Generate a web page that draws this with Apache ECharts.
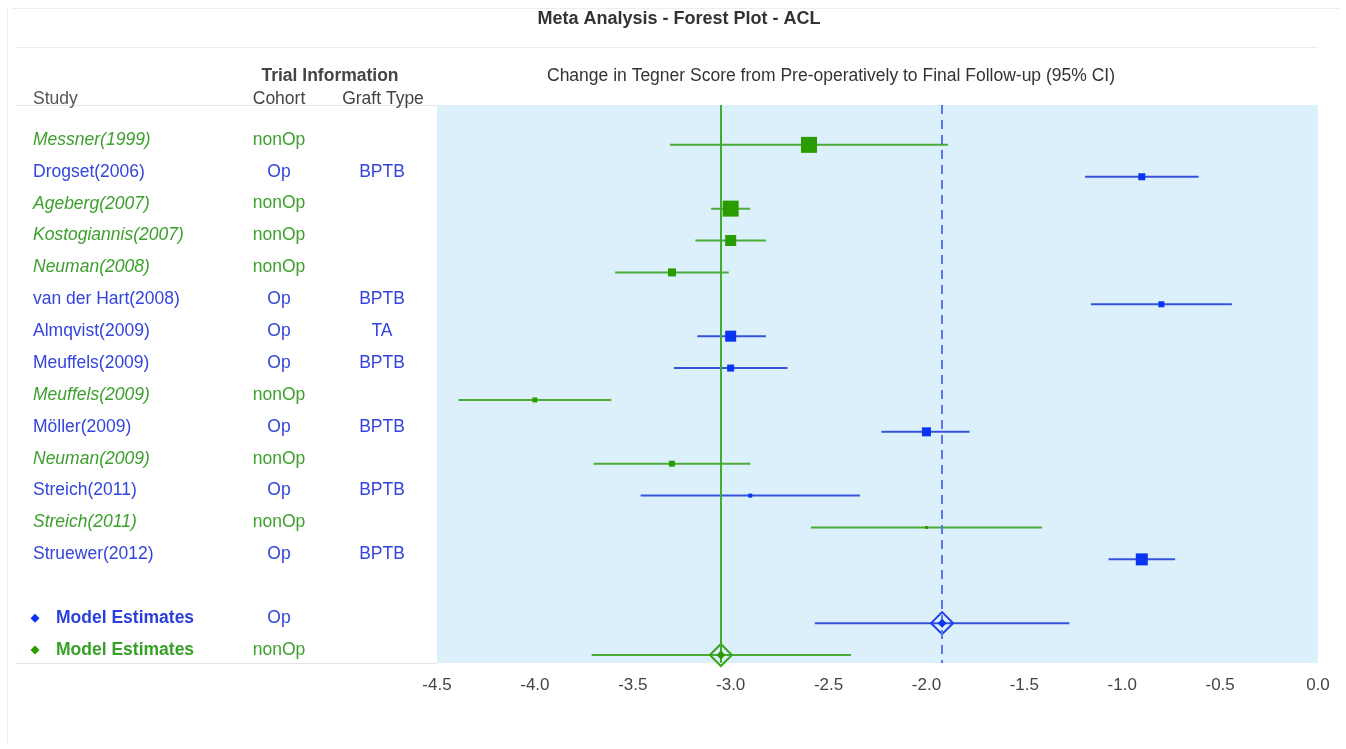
<!DOCTYPE html>
<html>
<head>
<meta charset="utf-8">
<script src="https://cdn.jsdelivr.net/npm/echarts@6/dist/echarts.min.js"></script>
<style>
html,body{margin:0;padding:0;background:#fff;}
#chart{width:1346px;height:749px;}
</style>
</head>
<body>
<div id="chart"></div>
<script>
// ---- data ----
const studies = ['Messner(1999)', 'Drogset(2006)', 'Ageberg(2007)', 'Kostogiannis(2007)', 'Neuman(2008)', 'van der Hart(2008)', 'Almqvist(2009)', 'Meuffels(2009)', 'Meuffels(2009)', 'Möller(2009)', 'Neuman(2009)', 'Streich(2011)', 'Streich(2011)', 'Struewer(2012)'];
const cohorts = ['nonOp', 'Op', 'nonOp', 'nonOp', 'nonOp', 'Op', 'Op', 'Op', 'nonOp', 'Op', 'nonOp', 'Op', 'nonOp', 'Op'];
const graftTypes = ['', 'BPTB', '', '', '', 'BPTB', 'TA', 'BPTB', '', 'BPTB', '', 'BPTB', '', 'BPTB'];
const estimates = [-2.6, -0.9, -3.0, -3.0, -3.3, -0.8, -3.0, -3.0, -4.0, -2.0, -3.3, -2.9, -2.0, -0.9];
const lowerCI = [-3.31, -1.19, -3.10, -3.18, -3.59, -1.16, -3.17, -3.29, -4.39, -2.23, -3.70, -3.46, -2.59, -1.07];
const upperCI = [-1.89, -0.61, -2.90, -2.82, -3.01, -0.44, -2.82, -2.71, -3.61, -1.78, -2.90, -2.34, -1.41, -0.73];
const weights = [16, 7, 16, 11, 8, 6, 11, 7, 5, 9, 6, 4, 3, 12];
const modelCohorts = ['Op', 'nonOp'];
const modelEstimates = [-1.92, -3.05];
const modelLower = [-2.57, -3.71];
const modelUpper = [-1.27, -2.385];
const xTicks = [-4.5, -4.0, -3.5, -3.0, -2.5, -2.0, -1.5, -1.0, -0.5, 0.0];

// ---- styles ----
const GREEN = '#2a9c00', GREEN_LINE = '#4aab36', GREEN_TEXT = '#3ca02c';
const BLUE = '#0a35f0', BLUE_LINE = '#3553dc', BLUE_TEXT = '#3345dd';
const FONT = '"Liberation Sans", Arial, sans-serif';
const FS = 17.5;
const colorOf = c => c === 'Op' ? BLUE : GREEN;
const lineColorOf = c => c === 'Op' ? BLUE_LINE : GREEN_LINE;
const textColorOf = c => c === 'Op' ? BLUE_TEXT : GREEN_TEXT;

const modelRow0 = studies.length + 1;

const ciData = studies.map((s, i) => [lowerCI[i], upperCI[i], i, cohorts[i]])
  .concat(modelCohorts.map((c, j) => [modelLower[j], modelUpper[j], modelRow0 + j, c]));

const chart = echarts.init(document.getElementById('chart'));

const option = {
  animation: false,
  backgroundColor: '#fff',
  grid: {
    left: 437, right: 28, top: 105, bottom: 86,
    show: true, backgroundColor: '#dcf0fb', borderWidth: 0
  },
  xAxis: {
    type: 'value', min: -4.5, max: 0, interval: 0.5,
    axisLine: {show: false}, axisTick: {show: false}, splitLine: {show: false},
    axisLabel: {
      fontFamily: FONT, fontSize: 17, color: '#444', margin: 14,
      formatter: v => xTicks.includes(+v.toFixed(1)) ? v.toFixed(1) : ''
    }
  },
  yAxis: {
    type: 'value', inverse: true, min: -1.25, max: 16.25, show: false
  },
  series: [
    {
      type: 'custom',
      z: 2,
      data: ciData,
      encode: {x: [0, 1], y: 2},
      renderItem: function (params, api) {
        const a = api.coord([api.value(0), api.value(2)]);
        const b = api.coord([api.value(1), api.value(2)]);
        const c = ciData[params.dataIndex][3];
        return {
          type: 'line',
          shape: {x1: a[0], y1: a[1], x2: b[0], y2: b[1]},
          style: {stroke: lineColorOf(c), lineWidth: 2}
        };
      }
    },
    {
      type: 'scatter',
      z: 4,
      symbol: 'rect',
      data: studies.map((s, i) => ({
        value: [estimates[i], i],
        symbolSize: weights[i],
        itemStyle: {color: colorOf(cohorts[i]), opacity: 1}
      }))
    },
    {
      type: 'scatter',
      z: 4,
      symbol: 'diamond',
      symbolSize: 22,
      data: modelCohorts.map((c, j) => ({
        value: [modelEstimates[j], modelRow0 + j],
        itemStyle: {color: 'rgba(0,0,0,0)', borderColor: c === 'Op' ? '#1f3fe8' : '#38a21e', borderWidth: 2, opacity: 1}
      }))
    },
    {
      type: 'scatter',
      z: 5,
      symbol: 'diamond',
      symbolSize: 9,
      data: modelCohorts.map((c, j) => ({
        value: [modelEstimates[j], modelRow0 + j],
        itemStyle: {color: colorOf(c), opacity: 1}
      }))
    },
    {
      type: 'line',
      z: 1,
      data: [],
      markLine: {
        silent: true,
        symbol: 'none',
        label: {show: false},
        data: [
          {xAxis: modelEstimates[1], lineStyle: {color: '#44aa30', width: 2, type: 'solid'}},
          {xAxis: modelEstimates[0], lineStyle: {color: '#5a78e8', width: 2, type: [9, 6]}}
        ]
      }
    }
  ]
};
chart.setOption(option);

// ---- left table & headers, positioned via the y axis scale ----
const rowY = r => chart.convertToPixel({yAxisIndex: 0}, r) - 5;
const g = [];
const txt = (x, y, text, style) => g.push({
  type: 'text', x: x, y: y,
  style: Object.assign({text: text, font: FS + 'px ' + FONT, fill: '#444', align: 'left', verticalAlign: 'middle'}, style)
});
const hline = (x1, x2, y, col) => g.push({
  type: 'line', shape: {x1: x1, y1: y, x2: x2, y2: y}, style: {stroke: col || '#eaeaea', lineWidth: 1}
});

// frame lines
hline(12, 1340, 8.5, '#eeeeee');
g.push({type: 'line', shape: {x1: 7.5, y1: 8, x2: 7.5, y2: 745}, style: {stroke: '#f0f0f0', lineWidth: 1}});
hline(15, 1318, 47.5, '#ececec');
hline(15, 437, 105.5, '#e6e6e6');
hline(15, 437, 663.5, '#e6e6e6');

// title and headers
txt(679, 19, 'Meta Analysis - Forest Plot - ACL', {font: 'bold 18px ' + FONT, fill: '#333', align: 'center'});
txt(330, 76, 'Trial Information', {font: 'bold ' + FS + 'px ' + FONT, fill: '#444', align: 'center'});
txt(831, 76, 'Change in Tegner Score from Pre-operatively to Final Follow-up (95% CI)', {align: 'center', fill: '#333'});
txt(33, 99, 'Study', {fill: '#555', font: '500 ' + FS + 'px ' + FONT});
txt(279, 99, 'Cohort', {align: 'center', fill: '#444'});
txt(383, 99, 'Graft Type', {align: 'center', fill: '#444'});

studies.forEach((s, i) => {
  const y = rowY(i);
  const col = textColorOf(cohorts[i]);
  const italic = cohorts[i] === 'nonOp';
  txt(33, y, s, {fill: col, font: (italic ? 'italic ' : '') + FS + 'px ' + FONT});
  txt(279, y, cohorts[i], {fill: col, align: 'center'});
  if (graftTypes[i]) txt(382, y, graftTypes[i], {fill: col, align: 'center'});
});
modelCohorts.forEach((c, j) => {
  const y = rowY(modelRow0 + j);
  const col = textColorOf(c);
  g.push({type: 'polygon', shape: {points: [[35, y - 4.5], [39.5, y], [35, y + 4.5], [30.5, y]]}, style: {fill: colorOf(c)}});
  txt(56, y, 'Model Estimates', {fill: c === 'Op' ? '#2a3ee0' : '#37a026', font: 'bold ' + FS + 'px ' + FONT});
  txt(279, y, c, {fill: col, align: 'center'});
});

chart.setOption({graphic: {elements: g}});
</script>
</body>
</html>
